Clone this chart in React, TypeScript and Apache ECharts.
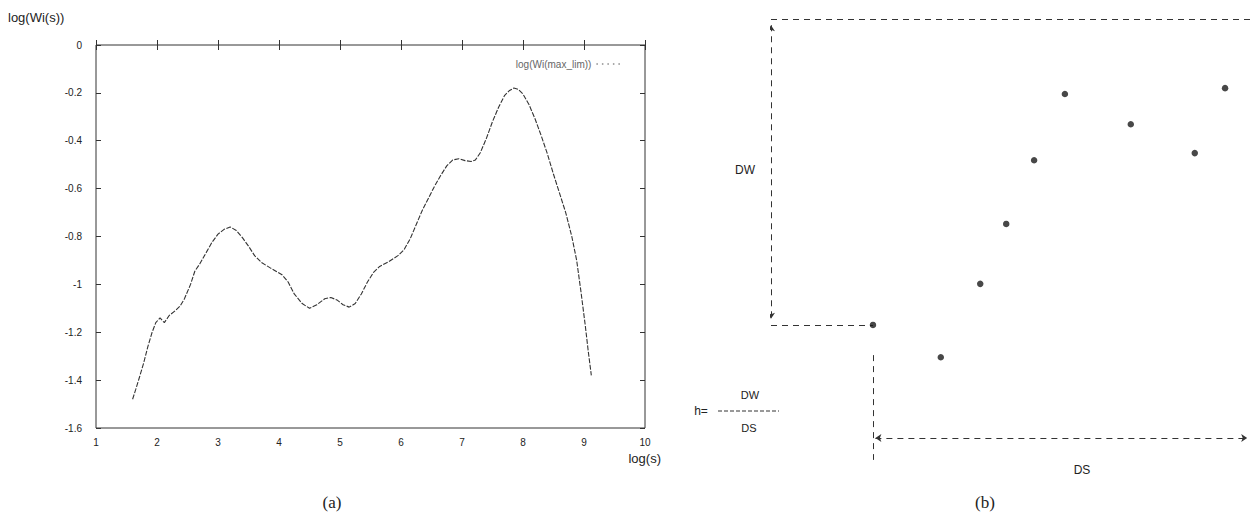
import React, { useEffect, useRef } from "react";
import * as echarts from "echarts";

// ---- Panel (a) data ----
const X_TICKS = [1, 2, 3, 4, 5, 6, 7, 8, 9, 10];
const Y_TICKS = [0, -0.2, -0.4, -0.6, -0.8, -1, -1.2, -1.4, -1.6];
const SERIES_NAME = "log(Wi(max_lim))";
const CURVE_X = [
  1.6, 1.65, 1.71, 1.78, 1.85, 1.92, 1.98, 2.05, 2.12, 2.2, 2.3, 2.38, 2.45, 2.55, 2.62, 2.7, 2.8, 2.9, 3.0, 3.1,
  3.2, 3.3, 3.4, 3.5, 3.6, 3.72, 3.85, 3.95, 4.05, 4.15, 4.25, 4.38, 4.5, 4.62, 4.75, 4.85, 4.95, 5.05, 5.15, 5.25,
  5.35, 5.45, 5.55, 5.65, 5.8, 5.95, 6.05, 6.15, 6.25, 6.35, 6.45, 6.55, 6.65, 6.75, 6.85, 6.95, 7.05, 7.15, 7.22, 7.3,
  7.4, 7.5, 7.6, 7.7, 7.78, 7.85, 7.92, 8.0, 8.1, 8.2, 8.3, 8.4, 8.5, 8.6, 8.7, 8.8, 8.88, 8.95, 9.02, 9.07, 9.12,
];
const CURVE_Y = [
  -1.48, -1.44, -1.39, -1.33, -1.26, -1.2, -1.16, -1.14, -1.16, -1.13, -1.11, -1.09, -1.06, -1.0, -0.945, -0.915, -0.87, -0.825, -0.79, -0.77,
  -0.76, -0.775, -0.805, -0.84, -0.88, -0.91, -0.93, -0.945, -0.96, -0.99, -1.04, -1.08, -1.1, -1.085, -1.06, -1.055, -1.065, -1.085, -1.095, -1.08,
  -1.04, -0.99, -0.95, -0.925, -0.905, -0.88, -0.855, -0.81, -0.75, -0.69, -0.64, -0.59, -0.545, -0.505, -0.48, -0.475, -0.483, -0.487, -0.48, -0.45,
  -0.39, -0.32, -0.26, -0.21, -0.19, -0.18, -0.185, -0.205, -0.25, -0.31, -0.38, -0.455, -0.54, -0.62, -0.7, -0.8, -0.9, -1.03, -1.17, -1.28, -1.38,
];

// ---- Panel (b) data (abstract units: DS axis 0..10, DW axis 0..10) ----
const B_POINTS_X = [2.12, 3.53, 4.35, 4.89, 5.47, 6.11, 7.48, 8.81, 9.44];
const B_POINTS_Y = [2.7, 1.93, 3.68, 5.11, 6.63, 8.21, 7.49, 6.8, 8.35];
// dimension / frame lines
const B_PLAIN_LINES = [
  [[0, 10], [10.05, 10]],
  [[0, 2.7], [2.12, 2.7]],
  [[2.12, 1.98], [2.12, -0.52]],
];
const B_ARROW_LINES = [
  [[0, 9.85], [0, 2.85]],
  [[2.17, 0], [9.9, 0]],
];

export default function App() {
  const ref = useRef<HTMLDivElement>(null);
  useEffect(() => {
    document.body.style.margin = "0";
    const chart = echarts.init(ref.current!, undefined, { renderer: "svg" });
    const sans = "Liberation Sans";
    const ink = "#222";
    const curve = CURVE_X.map((x, i) => [x, CURVE_Y[i]]);
    const pts = B_POINTS_X.map((x, i) => [x, B_POINTS_Y[i]]);
    const tickStyle = { show: true, inside: true, length: 5, lineStyle: { color: "#333" } };
    chart.setOption({
      animation: false,
      backgroundColor: "#fff",
      textStyle: { fontFamily: sans },
      grid: [
        { left: 96, right: 609, top: 45, bottom: 94, show: true, borderColor: "#333", borderWidth: 1, backgroundColor: "transparent" },
        { left: 771, width: 481, top: 19, height: 461 },
      ],
      legend: {
        data: [SERIES_NAME],
        right: 628,
        top: 54,
        align: "right",
        itemWidth: 24,
        itemHeight: 8,
        itemGap: 6,
        textStyle: { fontSize: 10, color: "#666", fontFamily: sans },
        itemStyle: { opacity: 0 },
        lineStyle: { type: [1.5, 4], width: 1.2, color: "#555" },
      },
      xAxis: [
        {
          gridIndex: 0, type: "value", min: 1, max: 10, interval: 1, position: "bottom",
          axisLine: { show: false }, axisTick: tickStyle, splitLine: { show: false },
          axisLabel: { margin: 9, fontSize: 10, color: ink, formatter: (v: number) => (X_TICKS.includes(v) ? String(v) : "") },
        },
        {
          gridIndex: 0, type: "value", min: 1, max: 10, interval: 1, position: "top",
          axisLine: { show: false }, axisTick: tickStyle, splitLine: { show: false }, axisLabel: { show: false },
        },
        { gridIndex: 1, type: "value", min: 0, max: 10, show: false },
      ],
      yAxis: [
        {
          gridIndex: 0, type: "value", min: -1.6, max: 0, interval: 0.2, position: "left",
          axisLine: { show: false }, axisTick: tickStyle, splitLine: { show: false },
          axisLabel: {
            margin: 14, fontSize: 10, color: ink,
            formatter: (v: number) => {
              const r = Math.round(v * 10) / 10;
              const t = Y_TICKS.find((k) => Math.abs(k - r) < 1e-6);
              return t === undefined ? "" : String(t);
            },
          },
        },
        {
          gridIndex: 0, type: "value", min: -1.6, max: 0, interval: 0.2, position: "right",
          axisLine: { show: false }, axisTick: tickStyle, splitLine: { show: false }, axisLabel: { show: false },
        },
        { gridIndex: 1, type: "value", min: -1, max: 10, show: false },
      ],
      series: [
        {
          name: SERIES_NAME, type: "line", xAxisIndex: 0, yAxisIndex: 0, data: curve,
          symbol: "none", showSymbol: false, smooth: false,
          lineStyle: { color: "#333", width: 1.1, type: [5, 1.5] },
          itemStyle: { color: "#555" },
        },
        {
          type: "scatter", xAxisIndex: 2, yAxisIndex: 2, data: pts,
          symbol: "circle", symbolSize: 6.5, itemStyle: { color: "#1a1a1a" },
        },
        {
          type: "lines", coordinateSystem: "cartesian2d", xAxisIndex: 2, yAxisIndex: 2,
          polyline: false, symbol: ["none", "none"],
          lineStyle: { color: "#333", width: 1, type: [6, 5], opacity: 1, curveness: 0 },
          data: B_PLAIN_LINES.map((c) => ({ coords: c })),
        },
        {
          type: "lines", coordinateSystem: "cartesian2d", xAxisIndex: 2, yAxisIndex: 2,
          polyline: false, symbol: ["arrow", "arrow"], symbolSize: 6,
          lineStyle: { color: "#333", width: 1, type: [6, 5], opacity: 1, curveness: 0 },
          data: B_ARROW_LINES.map((c) => ({ coords: c })),
        },
      ],
      graphic: [
        { type: "text", left: 8, top: 11, style: { text: "log(Wi(s))", fontSize: 13, fill: ink, fontFamily: sans } },
        { type: "text", x: 661, y: 458, style: { text: "log(s)", fontSize: 13, fill: ink, fontFamily: sans, align: "right", verticalAlign: "middle" } },
        { type: "text", x: 332, y: 502, style: { text: "(a)", fontSize: 17, fill: ink, fontFamily: "Liberation Serif", align: "center", verticalAlign: "middle" } },
        { type: "text", x: 985, y: 502, style: { text: "(b)", fontSize: 17, fill: ink, fontFamily: "Liberation Serif", align: "center", verticalAlign: "middle" } },
        { type: "text", x: 745, y: 170, style: { text: "DW", fontSize: 12, fill: ink, fontFamily: sans, align: "center", verticalAlign: "middle" } },
        { type: "text", x: 1082, y: 470, style: { text: "DS", fontSize: 12, fill: ink, fontFamily: sans, align: "center", verticalAlign: "middle" } },
        { type: "text", x: 701, y: 411, style: { text: "h=", fontSize: 12, fill: ink, fontFamily: sans, align: "center", verticalAlign: "middle" } },
        { type: "text", x: 750, y: 395, style: { text: "DW", fontSize: 11, fill: ink, fontFamily: sans, align: "center", verticalAlign: "middle" } },
        { type: "text", x: 749, y: 428, style: { text: "DS", fontSize: 11, fill: ink, fontFamily: sans, align: "center", verticalAlign: "middle" } },
        { type: "line", shape: { x1: 718, y1: 411, x2: 779, y2: 411 }, style: { stroke: "#333", lineWidth: 1, lineDash: [4, 2] } },
      ],
    });
    return () => chart.dispose();
  }, []);
  return <div ref={ref} style={{ width: 1254, height: 522 }} />;
}
